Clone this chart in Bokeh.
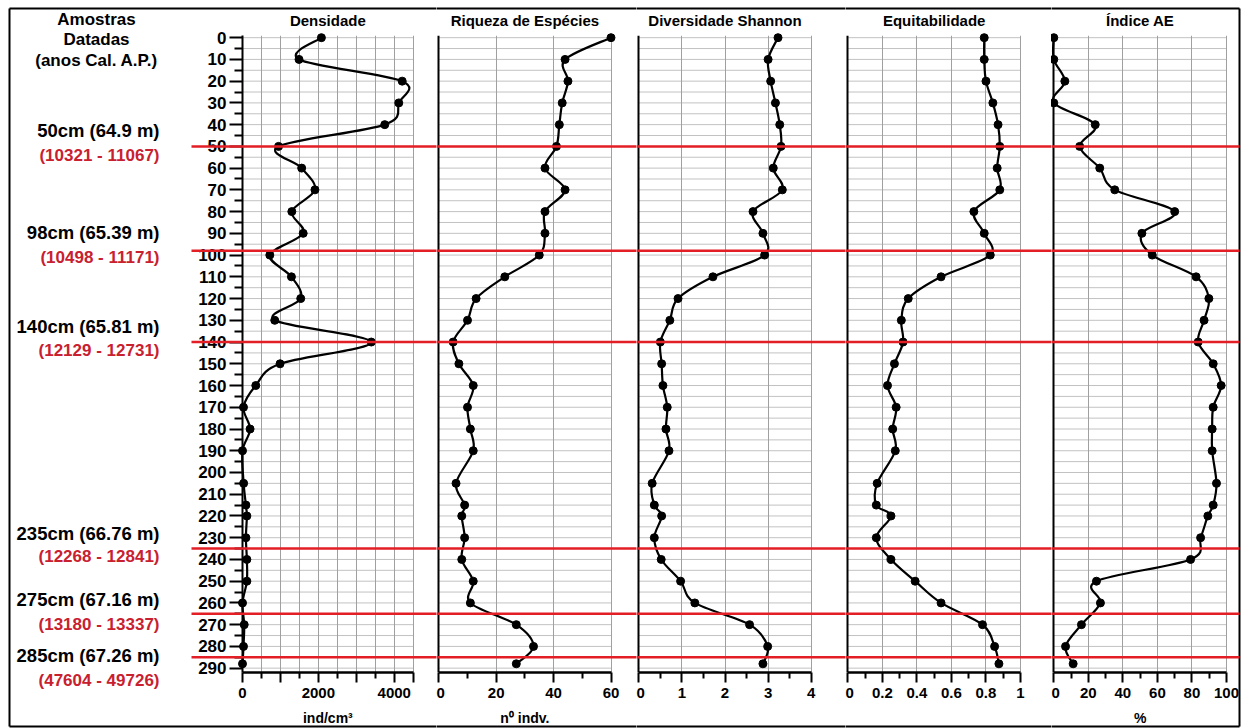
import numpy as np
from bokeh.plotting import figure
from bokeh.layouts import row
from bokeh.models import Range1d, FixedTicker
from bokeh.core.properties import value
from bokeh.embed import file_html
from bokeh.resources import INLINE

# ---------------- data ----------------
depth = [0, 10, 20, 30, 40, 50, 60, 70, 80, 90, 100, 110, 120, 130, 140, 150, 160, 170,
         180, 190, 205, 215, 220, 230, 240, 250, 260, 270, 280, 288]
densidade = [2080, 1490, 4210, 4120, 3750, 950, 1560, 1910, 1300, 1600, 720, 1290, 1535, 850,
             3395, 990, 350, 26, 200, 0, 30, 90, 115, 90, 115, 115, 0, 45, 26, 0]
riqueza = [60, 44, 45, 43, 42, 41, 37, 44, 37, 37, 35, 23, 13, 10, 5, 7, 12, 10, 11, 12,
           6, 9, 8, 9, 8, 12, 11, 27, 33, 27]
shannon = [3.23, 3.00, 3.06, 3.17, 3.27, 3.30, 3.12, 3.33, 2.65, 2.88, 2.92, 1.72, 0.91, 0.72,
           0.50, 0.53, 0.56, 0.66, 0.63, 0.70, 0.31, 0.36, 0.53, 0.36, 0.52, 0.97, 1.30, 2.57,
           2.99, 2.88]
equitabilidade = [0.79, 0.79, 0.80, 0.84, 0.87, 0.88, 0.865, 0.88, 0.73, 0.79, 0.825, 0.54,
                  0.35, 0.31, 0.32, 0.27, 0.23, 0.28, 0.26, 0.275, 0.17, 0.165, 0.25, 0.165,
                  0.25, 0.39, 0.54, 0.78, 0.85, 0.875]
indice_ae = [0, 0, 6.4, 0, 24, 15, 26.6, 35.3, 70, 51, 57, 82.4, 89.8, 87, 83.6, 92.3, 96.9,
             92.3, 91.7, 91.7, 94.2, 92.3, 89.2, 85, 79.2, 24.7, 27, 16, 6.8, 11.2]

series = [densidade, riqueza, shannon, equitabilidade, indice_ae]
panel_titles = ["Densidade", "Riqueza de Espécies", "Diversidade Shannon", "Equitabilidade", "Índice AE"]
panel_units = ["ind/cm³", "n⁰ indv.", "", "", "%"]
panel_max = [4500, 60, 4, 1, 100]
panel_ticks = [[0, 1000, 2000, 3000, 4000, 4500], [0, 20, 40, 60], [0, 1, 2, 3, 4],
               [0, 0.2, 0.4, 0.6, 0.8, 1.0], [0, 20, 40, 60, 80, 100]]
panel_tick_labels = [["0", "", "2000", "", "4000", ""], ["0", "20", "40", "60"],
                     ["0", "1", "2", "3", "4"], ["0", "0.2", "0.4", "0.6", "0.8", "1"],
                     ["0", "20", "40", "60", "80", "100"]]
panel_minor = [[500, 1500, 2500, 3500], [10, 30, 50], [0.5, 1.5, 2.5, 3.5],
               [0.1, 0.3, 0.5, 0.7, 0.9], [10, 30, 50, 70, 90]]
panel_grid = [[500, 1000, 1500, 2000, 2500, 3000, 3500, 4000, 4500], [20, 40, 60], [1, 2, 3, 4],
              [0.2, 0.4, 0.6, 0.8, 1.0], [20, 40, 60, 80, 100]]
depth_ticks = list(range(0, 291, 10))
depth_minor = list(range(5, 291, 10))
depth_grid = list(range(0, 291, 5))

date_depth = [50, 98, 140, 235, 265, 285]
date_label = ["50cm (64.9 m)", "98cm (65.39 m)", "140cm (65.81 m)", "235cm (66.76 m)",
              "275cm (67.16 m)", "285cm (67.26 m)"]
date_age = ["(10321 - 11067)", "(10498 - 11171)", "(12129 - 12731)", "(12268 - 12841)",
            "(13180 - 13337)", "(47604 - 49726)"]
header_lines = ["Amostras", "Datadas", "(anos Cal. A.P.)"]

# ---------------- layout constants (pixels) ----------------
W, H = 1246, 728
TOP, BOTTOM = 35, 672
D_TOP, D_BOTTOM = -1, 292
canvas_edges = [0, 436, 636, 845, 1051, 1246]
frame_left = [242, 436, 636, 845, 1051]
zero_px = [242.0, 438.3, 638.3, 847.3, 1053.3]
full_px = [412.7, 610.5, 810.7, 1020.0, 1226.0]
BOX_L, BOX_T, BOX_R, BOX_B = 9, 8, 1239, 726
label_black_py = [129.5, 232, 326, 532.5, 599, 655]
label_red_py = [154.5, 257, 350, 555.5, 624, 680]
header_py = [19, 38.5, 59.5]
title_py, unit_py = 20, 717
ARROW_TIP, ARROW_BASE, ARROW_HALF = 170, 193, 6

FONT = value("Liberation Sans")
RED_LINE = "#e31e24"
RED_TEXT = "#c9202f"


def py2d(py):
    return D_TOP + (py - TOP) * (D_BOTTOM - D_TOP) / (BOTTOM - TOP)


def bezier_cols(xs, ys):
    n = len(xs)
    out = {k: [] for k in ("x0", "y0", "x1", "y1", "cx0", "cy0", "cx1", "cy1")}
    for i in range(n - 1):
        a, b = max(i - 1, 0), min(i + 2, n - 1)
        out["x0"].append(xs[i]); out["y0"].append(ys[i])
        out["x1"].append(xs[i + 1]); out["y1"].append(ys[i + 1])
        out["cx0"].append(xs[i] + (xs[i + 1] - xs[a]) / 6.0)
        out["cy0"].append(ys[i] + (ys[i + 1] - ys[a]) / 6.0)
        out["cx1"].append(xs[i + 1] - (xs[b] - xs[i]) / 6.0)
        out["cy1"].append(ys[i + 1] - (ys[b] - ys[i]) / 6.0)
    return out


def txt(p, x, y, t, size, color="black", align="center"):
    p.text(x=x, y=y, text=t, text_font=FONT, text_font_style="bold",
           text_font_size=value(size), text_color=color, text_align=align,
           text_baseline="middle", level="overlay")


figs = []
for i in range(5):
    c0, c1 = canvas_edges[i], canvas_edges[i + 1]
    fl = frame_left[i]
    k = (full_px[i] - zero_px[i]) / panel_max[i]
    z = zero_px[i]

    def px2x(px, z=z, k=k):
        return (px - z) / k

    p = figure(width=c1 - c0, height=H,
               x_range=Range1d(px2x(fl), px2x(c1)),
               y_range=Range1d(D_BOTTOM, D_TOP),
               output_backend="svg", toolbar_location=None,
               min_border_left=fl - c0, min_border_right=0,
               min_border_top=TOP, min_border_bottom=H - BOTTOM,
               outline_line_color=None, background_fill_color="white",
               border_fill_color="white")

    # x axis
    xa = p.xaxis[0]
    xa.ticker = FixedTicker(ticks=panel_ticks[i], minor_ticks=panel_minor[i])
    xa.major_label_overrides = {t: l for t, l in zip(panel_ticks[i], panel_tick_labels[i])}
    xa.bounds = (0, panel_max[i])
    xa.axis_line_width = 2.5
    xa.major_tick_line_width = 2
    xa.minor_tick_line_width = 2
    xa.major_tick_out = 10
    xa.major_tick_in = 0
    xa.minor_tick_out = 6
    xa.minor_tick_in = 0
    xa.major_label_standoff = 5
    xa.major_label_text_font = "Liberation Sans"
    xa.major_label_text_font_style = "bold"
    xa.major_label_text_font_size = "15px"
    xa.major_label_text_color = "black"

    # y axis
    ya = p.yaxis[0]
    ya.axis_line_width = 2
    ya.axis_line_color = "black"
    if i == 0:
        ya.ticker = FixedTicker(ticks=depth_ticks, minor_ticks=depth_minor)
        ya.major_tick_out = 13
        ya.major_tick_in = 0
        ya.minor_tick_out = 8
        ya.minor_tick_in = 0
        ya.major_tick_line_width = 2
        ya.minor_tick_line_width = 2
        ya.major_label_standoff = 3
        ya.major_label_text_font = "Liberation Sans"
        ya.major_label_text_font_style = "bold"
        ya.major_label_text_font_size = "17px"
        ya.major_label_text_color = "black"
    else:
        ya.fixed_location = 0
        ya.ticker = FixedTicker(ticks=[], minor_ticks=[])
        ya.major_tick_out = 0
        ya.major_tick_in = 0
        ya.minor_tick_out = 0
        ya.minor_tick_in = 0
        ya.major_label_standoff = 0
        ya.major_label_text_font_size = "0px"

    # grids
    p.ygrid.visible = False
    p.xgrid.ticker = FixedTicker(ticks=panel_grid[i])
    p.xgrid.grid_line_color = "#a0a0a0"
    p.xgrid.grid_line_width = 1
    p.segment(x0=[0] * len(depth_grid), y0=depth_grid,
              x1=[panel_max[i]] * len(depth_grid), y1=depth_grid,
              line_color="#c2c2c2", line_width=1, level="underlay")

    # outer box pieces
    bl, br = max(c0, BOX_L), min(c1, BOX_R)
    p.segment(x0=[px2x(bl)] * 2, y0=[py2d(BOX_T), py2d(BOX_B)],
              x1=[px2x(br)] * 2, y1=[py2d(BOX_T), py2d(BOX_B)],
              line_color="black", line_width=2, level="overlay")
    if i == 0:
        p.segment(x0=[px2x(BOX_L)], y0=[py2d(BOX_T)], x1=[px2x(BOX_L)], y1=[py2d(BOX_B)],
                  line_color="black", line_width=2, level="overlay")
    if i == 4:
        p.segment(x0=[px2x(BOX_R)], y0=[py2d(BOX_T)], x1=[px2x(BOX_R)], y1=[py2d(BOX_B)],
                  line_color="black", line_width=2, level="overlay")

    # data curve and points
    bz = bezier_cols(series[i], depth)
    p.bezier(source=bz, x0="x0", y0="y0", x1="x1", y1="y1", cx0="cx0", cy0="cy0",
             cx1="cx1", cy1="cy1", line_color="black", line_width=2.2, level="overlay")
    p.scatter(x=series[i], y=depth, size=8, color="black", level="overlay")

    # red dating lines
    start_px = ARROW_BASE - 2 if i == 0 else c0
    end_px = br if i == 4 else c1
    p.segment(x0=[px2x(start_px)] * len(date_depth), y0=date_depth,
              x1=[px2x(end_px)] * len(date_depth), y1=date_depth,
              line_color=RED_LINE, line_width=2.5, level="overlay")

    # titles and units
    txt(p, [panel_max[i] / 2], [py2d(title_py)], [panel_titles[i]], "15px")
    if panel_units[i]:
        txt(p, [panel_max[i] / 2], [py2d(unit_py)], [panel_units[i]], "14px")

    if i == 0:
        hd = ARROW_HALF * (D_BOTTOM - D_TOP) / (BOTTOM - TOP)
        p.patches(xs=[[px2x(ARROW_TIP), px2x(ARROW_BASE), px2x(ARROW_BASE)] for _ in date_depth],
                  ys=[[d, d - hd, d + hd] for d in date_depth],
                  fill_color=RED_LINE, line_color=RED_LINE, level="overlay")
        txt(p, [px2x(96)] * 3, [py2d(v) for v in header_py], header_lines, "17px")
        txt(p, [px2x(159)] * len(date_label), [py2d(v) for v in label_black_py], date_label,
            "18.5px", align="right")
        txt(p, [px2x(159)] * len(date_age), [py2d(v) for v in label_red_py], date_age,
            "17px", color=RED_TEXT, align="right")

    figs.append(p)

layout = row(*figs, spacing=0)
open("out.html", "w").write(file_html(layout, INLINE))
